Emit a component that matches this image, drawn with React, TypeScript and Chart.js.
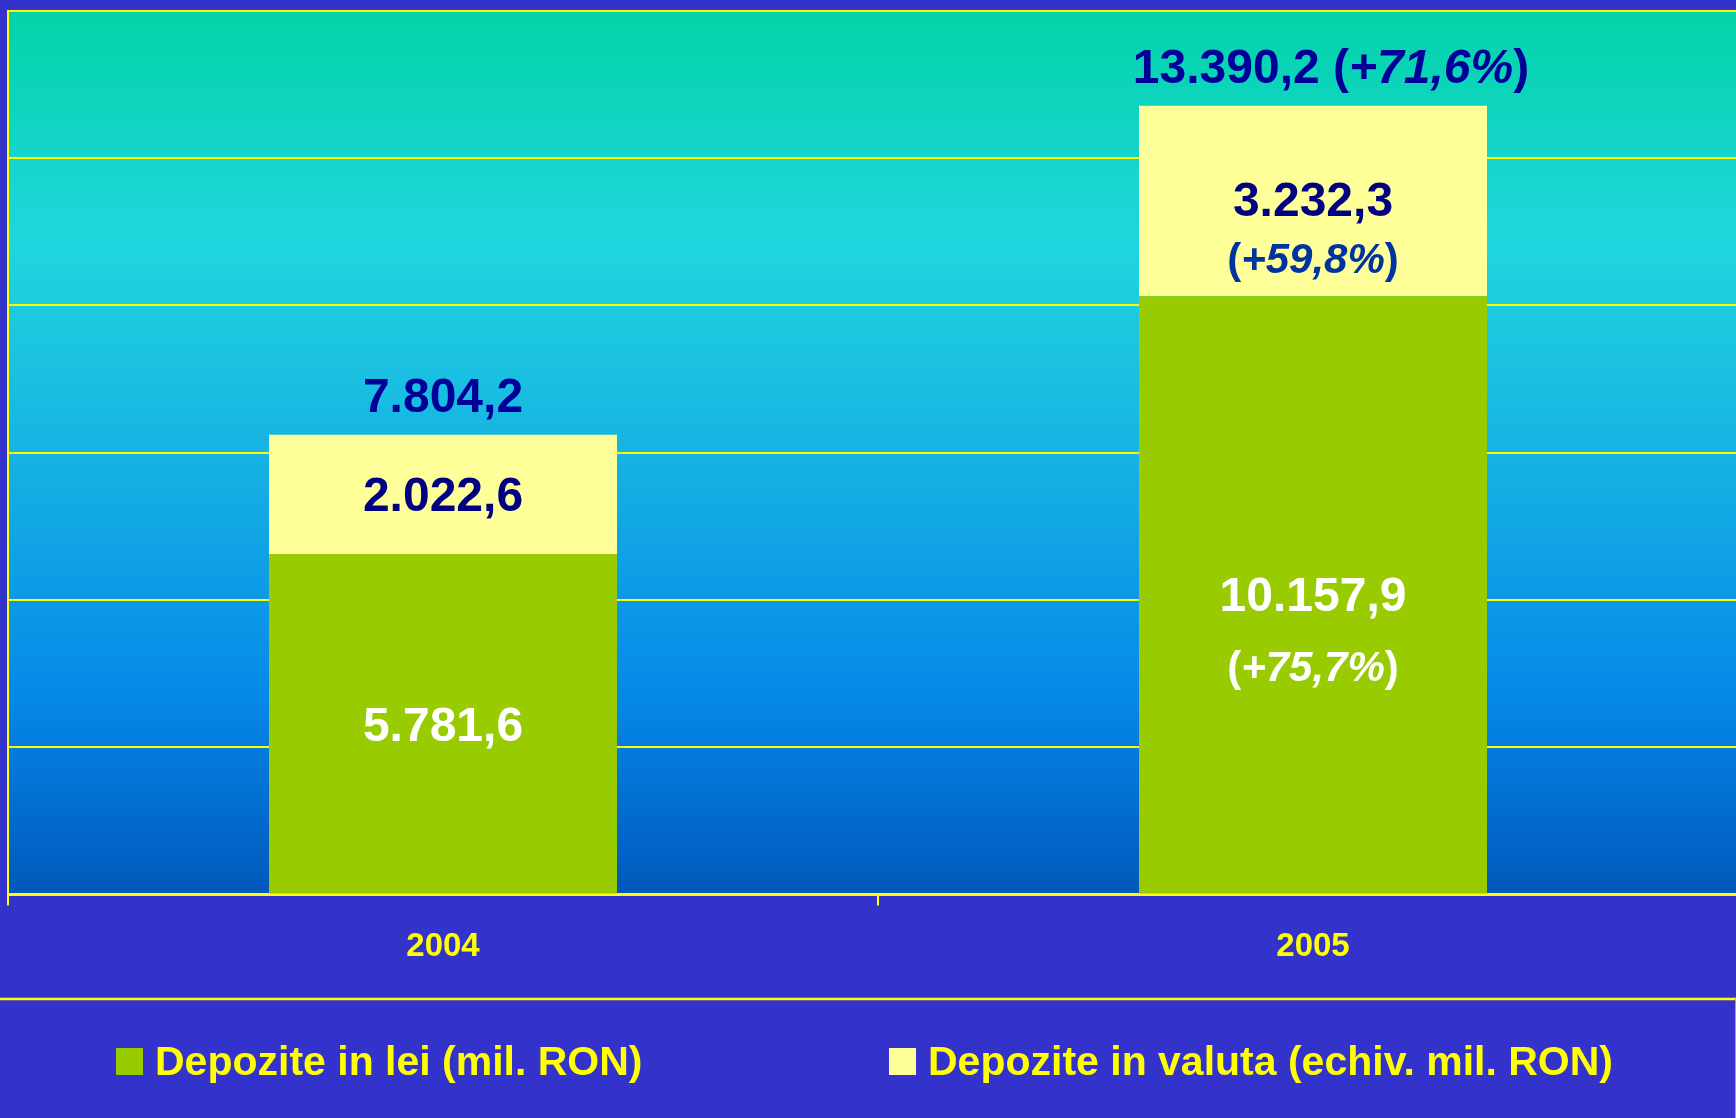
import React, { useEffect, useRef } from 'react';
import { Chart, registerables } from 'chart.js';

Chart.register(...registerables);

// ---------- data ----------
const categories = ['2004', '2005'];
const leiValues = [5781.6, 10157.9];
const valutaValues = [2022.6, 3232.3];
const totalValues = [7804.2, 13390.2];
const leiGrowth = ['', '+75,7%'];
const valutaGrowth = ['', '+59,8%'];
const totalGrowth = ['', '+71,6%'];
const seriesLabels = ['Depozite in lei (mil. RON)', 'Depozite in valuta (echiv. mil. RON)'];
const yMax = 15000;
const yStep = 2500;

// ---------- styles ----------
const FONT = '"Liberation Sans", Arial, Helvetica, sans-serif';
const PAGE_W = 1736;
const PAGE_H = 1118;
const CANVAS_W = 1748;
const YELLOW = '#FFFF00';
const GREEN = '#99CC00';
const PALE = '#FFFF99';
const NAVY = '#000099';
const NAVY_DARK = '#000080';
const BLUE_GROWTH = '#0033A0';
const BG = '#3333CC';
const LEGEND_ITEM_X = [116, 889];

function fmt(v: number): string {
  const [i, d] = v.toFixed(1).split('.');
  return i.replace(/\B(?=(\d{3})+(?!\d))/g, '.') + ',' + d;
}

type Part = { text: string; italic?: boolean };

function drawParts(ctx: CanvasRenderingContext2D, parts: Part[], cx: number, baseline: number, size: number, color: string) {
  const fontOf = (p: Part) => `${p.italic ? 'italic ' : ''}bold ${size}px ${FONT}`;
  let total = 0;
  const widths = parts.map((p) => {
    ctx.font = fontOf(p);
    const w = ctx.measureText(p.text).width;
    total += w;
    return w;
  });
  let x = cx - total / 2;
  ctx.fillStyle = color;
  ctx.textAlign = 'left';
  ctx.textBaseline = 'alphabetic';
  parts.forEach((p, k) => {
    ctx.font = fontOf(p);
    ctx.fillText(p.text, x, baseline);
    x += widths[k];
  });
}

const gradientPlugin = {
  id: 'plotGradient',
  beforeDraw(chart: any) {
    const { ctx, chartArea } = chart;
    if (!chartArea) return;
    const g = ctx.createLinearGradient(0, chartArea.top, 0, chartArea.bottom);
    g.addColorStop(0, '#02D3A8');
    g.addColorStop(0.26, '#20D6DE');
    g.addColorStop(0.5, '#16B3E3');
    g.addColorStop(0.78, '#0588E8');
    g.addColorStop(1, '#0058BB');
    ctx.save();
    ctx.fillStyle = g;
    ctx.fillRect(chartArea.left, chartArea.top, chartArea.right - chartArea.left, chartArea.bottom - chartArea.top);
    ctx.restore();
  },
};

const labelsPlugin = {
  id: 'barLabels',
  afterDatasetsDraw(chart: any) {
    const { ctx } = chart;
    const m0 = chart.getDatasetMeta(0);
    const m1 = chart.getDatasetMeta(1);
    ctx.save();
    categories.forEach((_, i) => {
      const b0 = m0.data[i] as any;
      const b1 = m1.data[i] as any;
      // lei segment
      const mid0 = (b0.y + b0.base) / 2;
      if (leiGrowth[i]) {
        drawParts(ctx, [{ text: fmt(leiValues[i]) }], b0.x, mid0 + 16, 48, '#FFFFFF');
        drawParts(ctx, [{ text: '(' }, { text: leiGrowth[i], italic: true }, { text: ')' }], b0.x, mid0 + 86, 42, '#FFFFFF');
      } else {
        drawParts(ctx, [{ text: fmt(leiValues[i]) }], b0.x, mid0 + 17, 48, '#FFFFFF');
      }
      // valuta segment
      const mid1 = (b1.y + b1.base) / 2;
      if (valutaGrowth[i]) {
        drawParts(ctx, [{ text: fmt(valutaValues[i]) }], b1.x, mid1 + 15, 48, NAVY_DARK);
        drawParts(ctx, [{ text: '(' }, { text: valutaGrowth[i], italic: true }, { text: ')' }], b1.x, mid1 + 72, 42, BLUE_GROWTH);
      } else {
        drawParts(ctx, [{ text: fmt(valutaValues[i]) }], b1.x, mid1 + 17, 48, NAVY_DARK);
      }
      // total above
      const parts: Part[] = [{ text: fmt(totalValues[i]) }];
      if (totalGrowth[i]) {
        parts.push({ text: ' (' }, { text: totalGrowth[i], italic: true }, { text: ')' });
      }
      drawParts(ctx, parts, b1.x + (totalGrowth[i] ? 18 : 0), b1.y - 23, 48, NAVY);
    });
    ctx.restore();
  },
};

const legendPlugin = {
  id: 'customLegend',
  afterDraw(chart: any) {
    const { ctx } = chart;
    ctx.save();
    // legend frame
    ctx.strokeStyle = YELLOW;
    ctx.lineWidth = 2.5;
    ctx.beginPath();
    ctx.moveTo(0, 999);
    ctx.lineTo(PAGE_W, 999);
    ctx.stroke();
    ctx.strokeStyle = '#A8A870';
    ctx.lineWidth = 1;
    ctx.beginPath();
    ctx.moveTo(1735.5, 999);
    ctx.lineTo(1735.5, PAGE_H);
    ctx.stroke();

    const size = 41;
    const box = 27;
    const gapText = 12;
    const ds = chart.data.datasets;
    const baseline = 1075;
    ds.forEach((d: any, k: number) => {
      let x = LEGEND_ITEM_X[k];
      ctx.fillStyle = d.backgroundColor;
      ctx.fillRect(x, 1048, box, box);
      x += box + gapText;
      ctx.fillStyle = YELLOW;
      ctx.font = `bold ${size}px ${FONT}`;
      ctx.textAlign = 'left';
      ctx.textBaseline = 'alphabetic';
      ctx.fillText(d.label, x, baseline);
    });
    ctx.restore();
  },
};

export default function App() {
  const ref = useRef<HTMLCanvasElement | null>(null);

  useEffect(() => {
    if (!ref.current) return;
    const chart = new Chart(ref.current, {
      type: 'bar',
      data: {
        labels: categories,
        datasets: [
          {
            label: seriesLabels[0],
            data: leiValues,
            backgroundColor: GREEN,
            borderWidth: 0,
            categoryPercentage: 0.8,
            barPercentage: 0.5,
          },
          {
            label: seriesLabels[1],
            data: valutaValues,
            backgroundColor: PALE,
            borderWidth: 0,
            categoryPercentage: 0.8,
            barPercentage: 0.5,
          },
        ],
      },
      options: {
        responsive: false,
        animation: false,
        devicePixelRatio: 1,
        layout: { padding: { left: 8, top: 11, right: 0, bottom: 129 } },
        plugins: {
          legend: { display: false },
          tooltip: { enabled: false },
          title: { display: false },
        },
        scales: {
          x: {
            stacked: true,
            grid: {
              display: true,
              drawOnChartArea: false,
              drawTicks: true,
              tickLength: 11,
              color: YELLOW,
              lineWidth: 2,
            },
            border: { display: true, color: YELLOW, width: 3 },
            ticks: {
              color: YELLOW,
              padding: 22,
              font: { family: FONT, size: 33, weight: 'bold' },
            },
          },
          y: {
            stacked: true,
            min: 0,
            max: yMax,
            ticks: { display: false, stepSize: yStep },
            grid: { color: YELLOW, lineWidth: 2, drawTicks: false },
            border: { display: true, color: YELLOW, width: 2 },
          },
        },
      },
      plugins: [gradientPlugin, labelsPlugin, legendPlugin],
    });
    return () => chart.destroy();
  }, []);

  return (
    <div
      style={{
        position: 'fixed',
        left: 0,
        top: 0,
        width: PAGE_W,
        height: PAGE_H,
        overflow: 'hidden',
        background: BG,
      }}
    >
      <canvas ref={ref} width={CANVAS_W} height={PAGE_H} style={{ display: 'block', width: CANVAS_W, height: PAGE_H }} />
    </div>
  );
}
